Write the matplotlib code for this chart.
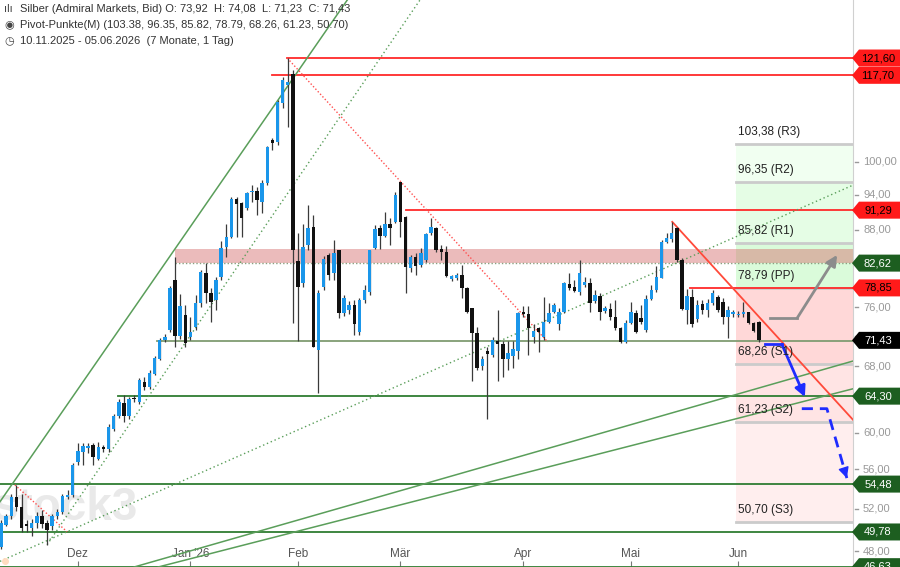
import numpy as np
import matplotlib
matplotlib.use("Agg")
import matplotlib.pyplot as plt
from matplotlib.patches import Polygon

plt.rcParams['font.family'] = ['Liberation Sans', 'DejaVu Sans']

# Tageskerzen Silber (Admiral Markets, Bid), 10.11.2025 - 05.06.2026
eroeffnung = [48.4, 50.4, 51.3, 53.2, 52.2, 50.5, 50.2, 50.6, 51.3, 50.6,
              50.3, 51.3, 51.7, 53.2, 53.4, 56.8, 57.9, 58.3, 58.6, 57.1,
              58.4, 58.2, 60.4, 61.9, 63.5, 61.9, 64.1, 63.6, 66.0, 65.4,
              67.1, 69.0, 71.5, 72.9, 80.1, 72.0, 74.9, 71.9, 73.3, 76.6,
              81.1, 78.1, 77.1, 80.5, 85.2, 86.8, 93.3, 92.5, 91.6, 94.4,
              94.6, 92.7, 96.1, 104.2, 103.8, 111.7, 115.6, 118.1, 82.9, 79.6,
              85.5, 88.4, 70.2, 79.0, 83.9, 81.1, 84.7, 75.2, 75.7, 76.4,
              72.5, 77.1, 78.3, 85.0, 88.3, 86.9, 88.9, 89.3, 96.2, 90.1,
              81.9, 83.5, 82.3, 83.1, 87.4, 88.3, 84.9, 84.4, 80.2, 80.3,
              80.8, 78.9, 75.9, 72.4, 68.1, 70.0, 69.5, 71.3, 70.9, 68.9,
              69.4, 70.0, 75.4, 75.0, 71.9, 73.1, 71.9, 74.0, 75.4, 73.6,
              75.4, 79.5, 79.0, 78.3, 79.3, 79.6, 76.9, 77.6, 75.5, 75.8,
              74.6, 73.1, 71.2, 73.8, 75.2, 74.5, 72.9, 77.2, 78.6, 80.3,
              86.0, 86.5, 88.3, 83.1, 75.7, 77.5, 74.3, 76.5, 75.7, 76.6,
              77.5, 76.8, 74.6, 75.0, 74.9, 75.0, 75.3, 73.8, 73.92]
hoch = [50.9, 51.5, 53.5, 54.4, 53.5, 50.9, 51.0, 51.7, 51.9, 50.9,
        51.5, 52.0, 53.5, 53.9, 56.7, 58.9, 58.9, 58.9, 58.9, 59.0,
        58.6, 61.0, 62.2, 63.9, 64.5, 64.2, 64.4, 66.5, 66.7, 67.5,
        69.4, 71.8, 72.3, 79.2, 83.6, 78.0, 76.4, 74.6, 77.8, 81.5,
        82.6, 78.8, 80.5, 86.1, 89.0, 93.5, 93.5, 92.7, 94.5, 95.8,
        95.4, 96.6, 103.0, 104.6, 112.4, 117.4, 121.6, 118.9, 87.5, 89.0,
        92.2, 90.5, 78.6, 83.7, 84.2, 86.3, 84.7, 77.8, 76.9, 77.1,
        77.4, 79.3, 84.7, 88.8, 88.8, 91.0, 90.0, 94.4, 96.3, 90.3,
        83.9, 84.2, 85.0, 87.4, 90.0, 88.5, 85.5, 85.3, 80.8, 81.1,
        82.3, 79.0, 75.9, 73.2, 69.3, 70.6, 71.9, 75.7, 71.4, 71.4,
        71.4, 75.4, 76.2, 76.2, 73.6, 73.3, 77.5, 76.6, 76.6, 75.9,
        79.8, 81.1, 80.0, 83.1, 80.5, 80.3, 78.6, 78.1, 76.2, 76.6,
        77.1, 73.3, 74.2, 76.8, 75.7, 76.4, 77.8, 79.3, 82.1, 86.3,
        87.5, 89.3, 88.5, 83.4, 78.7, 78.7, 77.1, 77.1, 77.2, 78.6,
        77.8, 77.3, 76.2, 75.7, 75.5, 76.8, 75.4, 74.0, 74.08]
tief = [48.2, 50.3, 51.0, 51.8, 49.8, 49.8, 49.4, 50.2, 50.2, 48.6,
        50.0, 51.0, 51.5, 53.0, 53.2, 56.5, 56.5, 57.8, 56.5, 57.0,
        57.9, 57.9, 60.2, 61.7, 61.2, 61.6, 63.6, 63.4, 65.1, 65.2,
        66.9, 68.8, 71.2, 72.6, 70.6, 71.6, 70.5, 71.5, 72.9, 76.1,
        76.6, 74.0, 75.7, 80.0, 83.6, 86.7, 86.8, 86.8, 91.3, 92.7,
        90.5, 90.8, 95.8, 102.2, 103.3, 110.7, 106.7, 73.8, 71.4, 79.0,
        84.7, 70.5, 64.7, 78.6, 80.0, 80.0, 74.5, 74.8, 75.0, 72.2,
        72.2, 76.6, 77.8, 84.9, 84.9, 86.8, 85.5, 89.1, 86.8, 78.1,
        81.2, 80.8, 82.0, 82.8, 87.1, 84.4, 83.1, 80.5, 79.9, 80.0,
        77.4, 75.2, 66.1, 67.6, 67.6, 61.6, 69.2, 66.1, 66.7, 67.6,
        67.8, 68.9, 74.6, 69.5, 71.1, 69.9, 71.5, 73.8, 75.2, 72.9,
        75.2, 78.6, 78.3, 77.8, 79.0, 75.4, 76.6, 74.2, 75.2, 74.2,
        72.9, 71.1, 71.1, 73.6, 72.4, 73.6, 72.6, 77.1, 78.3, 80.3,
        85.8, 86.0, 82.8, 75.7, 73.6, 73.3, 74.0, 75.1, 74.7, 76.4,
        75.4, 73.6, 71.8, 74.7, 74.6, 74.7, 73.6, 72.6, 71.23]
schluss = [50.6, 51.3, 53.2, 52.2, 50.2, 50.3, 50.6, 51.3, 50.5, 50.0,
           51.3, 51.7, 53.3, 53.4, 56.5, 58.0, 58.5, 58.5, 57.3, 58.4,
           58.2, 60.7, 61.9, 63.6, 61.9, 64.0, 63.9, 66.3, 65.4, 67.2,
           69.1, 71.5, 71.9, 78.9, 72.0, 76.2, 71.1, 72.5, 76.6, 81.2,
           78.1, 76.8, 80.0, 85.0, 86.8, 93.2, 92.3, 90.0, 94.3, 94.6,
           93.1, 96.1, 102.8, 103.6, 111.9, 116.7, 116.3, 84.7, 79.0, 85.2,
           88.3, 70.5, 78.1, 83.3, 80.8, 84.2, 75.2, 77.4, 76.4, 73.6,
           77.1, 78.6, 84.7, 88.1, 86.9, 89.0, 88.3, 94.0, 89.3, 82.0,
           83.5, 82.2, 84.2, 87.3, 88.5, 84.7, 84.4, 80.6, 80.6, 80.8,
           78.9, 75.4, 72.4, 67.8, 68.9, 69.6, 71.5, 70.9, 68.9, 69.7,
           70.3, 75.2, 75.0, 73.1, 72.7, 72.6, 74.0, 75.2, 76.4, 75.4,
           79.6, 78.9, 78.4, 81.1, 79.8, 76.6, 77.8, 75.4, 75.9, 74.6,
           73.1, 71.2, 73.8, 75.4, 72.6, 74.0, 77.2, 78.6, 80.5, 86.0,
           86.6, 87.5, 83.1, 75.8, 77.6, 73.6, 76.4, 75.7, 76.6, 78.1,
           75.7, 74.6, 75.7, 75.3, 75.1, 75.3, 73.8, 72.7, 71.43]

monate = ['Dez', "Jan '26", 'Feb', 'Mär', 'Apr', 'Mai', 'Jun']
monat_idx = [15, 37, 58, 78, 102, 123, 144]

pivot_namen = ['R3', 'R2', 'R1', 'PP', 'S1', 'S2', 'S3']
pivot_werte = [103.38, 96.35, 85.82, 78.79, 68.26, 61.23, 50.70]
pivot_start = 143.6

# horizontale Linien: Preis, Start (Kerzenindex), Farbe
linien_preis = [121.60, 117.70, 91.29, 78.85, 71.35, 64.30, 54.48, 49.78, 46.63]
linien_start = [55.9, 52.9, 79.1, 134.6, 30.5, 22.9, -1, -1, -1]
linien_farbe = ['#ff2a2a', '#ff2a2a', '#ff2a2a', '#ff2a2a', '#809c72',
                '#2f7d32', '#2f7d32', '#2f7d32', '#2f7d32']

# Trendlinien: (i0, p0, i1, p1)
trend_gruen = [(-0.2, 52.7, 67.6, 135.6), (26.0, 46.6, 166.4, 68.7), (30.7, 46.6, 166.4, 65.2)]
trend_gruen_punkt = [(9.0, 48.6, 81.8, 135.6), (-0.2, 47.1, 166.4, 95.7)]
trend_rot_punkt = [(55.9, 121.6, 106.8, 71.2), (2.7, 54.4, 12.9, 49.8)]
trend_rot = [(131.1, 89.3, 166.4, 61.5)]

zone_unten, zone_oben, zone_start = 82.62, 84.8, 34.0

# Szenario-Pfeile
pfeil_grau_x, pfeil_grau_y = [150.2, 155.5, 163.3], [74.5, 74.5, 83.9]
pfeil_blau_x, pfeil_blau_y = [149.2, 152.5, 157.0], [70.9, 70.9, 64.2]
pfeil_blau2_x, pfeil_blau2_y = [156.4, 161.3, 165.2], [62.8, 62.8, 55.1]

marken_werte = [121.60, 117.70, 91.29, 82.62, 78.85, 71.43, 64.30, 54.48, 49.78, 46.63]
marken_art = ['r', 'r', 'r', 'g', 'r', 's', 'g', 'g', 'g', 'g']
achsen_ticks = [48, 52, 56, 60, 68, 72, 76, 88, 94, 100]

ymin, ymax = 46.6, 135.65
xmin, xmax = -0.2, 166.4


def komma(v):
    return f"{v:.2f}".replace('.', ',')


fig = plt.figure(figsize=(9, 5.67), dpi=100)
ax = fig.add_axes([0, 0, 853 / 900, 1])
ax.set_yscale('log')
ax.set_xlim(xmin, xmax)
ax.set_ylim(ymin, ymax)
for s in ['top', 'left', 'bottom']:
    ax.spines[s].set_visible(False)
ax.spines['right'].set_color('#d0d0d0')
ax.set_yticks([])
ax.set_yticks([], minor=True)
ax.tick_params(axis='x', direction='in', length=4, color='#777', pad=-14,
               labelsize=8.5, labelcolor='#555')
ax.set_xticks(monat_idx)
ax.set_xticklabels(monate)

# Pivot-Flächen
flaechen = ['#f1fff1', '#e5fde5', '#dafbda', '#ffd8d8', '#ffe4e4', '#ffeeee']
for k in range(6):
    ax.fill_between([pivot_start, xmax], pivot_werte[k + 1], pivot_werte[k],
                    color=flaechen[k], lw=0, zorder=0)
for n, v in zip(pivot_namen, pivot_werte):
    ax.plot([pivot_start, xmax], [v, v], color='#cbcbcb', lw=2, zorder=1)
    ax.annotate(f"{komma(v)} ({n})", (pivot_start, v), xytext=(2, 12),
                textcoords='offset pixels', fontsize=8.5, color='#222',
                va='center', ha='left', zorder=6)

# Widerstandszone
ax.fill_between([zone_start, xmax], zone_unten, zone_oben, color='#d46a6a',
                alpha=0.45, lw=0, zorder=1)
ax.plot([zone_start, xmax], [zone_unten, zone_unten], color='#8aa080', lw=1,
        ls=(0, (1, 1.5)), zorder=2)

# Wasserzeichen
ax.text(-1.6, 50.9, 'stock3', fontsize=33, color='#c8c8c8', alpha=0.4,
        fontweight='bold', va='baseline', ha='left', zorder=1)

# horizontale Linien
for p, st, c in zip(linien_preis, linien_start, linien_farbe):
    ax.plot([st, xmax], [p, p], color=c, lw=1.3, zorder=2)

for i0, p0, i1, p1 in trend_gruen:
    ax.plot([i0, i1], [p0, p1], color='#5a9e5a', lw=1.1, zorder=2)
for i0, p0, i1, p1 in trend_gruen_punkt:
    ax.plot([i0, i1], [p0, p1], color='#5a9e5a', lw=1, ls=(0, (1, 2)), zorder=2)
for i0, p0, i1, p1 in trend_rot_punkt:
    ax.plot([i0, i1], [p0, p1], color='#ff5050', lw=1, ls=(0, (1, 1.5)), zorder=2)
for i0, p0, i1, p1 in trend_rot:
    ax.plot([i0, i1], [p0, p1], color='#ff4a3a', lw=1.3, zorder=2)
ax.plot([0.8], [47.1], 'o', color='#ffdcc0', ms=4, zorder=2)

# Kerzen
idx = np.arange(len(schluss))
o = np.array(eroeffnung)
c = np.array(schluss)
steigend = c >= o
ax.vlines(idx, tief, hoch, color='#3a3a3a', lw=0.9, zorder=3)
koerper = np.where(np.abs(c - o) < 0.15, 0.15, c - o)
ax.bar(idx, koerper, bottom=o, width=0.68,
       color=np.where(steigend, '#1a96ea', '#111111'), lw=0, zorder=4)

# Pfeile
ax.plot(pfeil_grau_x[:2], pfeil_grau_y[:2], color='#8c8c8c', lw=2, zorder=5)
ax.annotate('', xy=(pfeil_grau_x[2], pfeil_grau_y[2]),
            xytext=(pfeil_grau_x[1], pfeil_grau_y[1]),
            arrowprops=dict(arrowstyle='-|>', color='#8c8c8c', lw=2,
                            mutation_scale=16, shrinkA=0, shrinkB=0), zorder=5)
ax.plot(pfeil_blau_x[:2], pfeil_blau_y[:2], color='#1f2cff', lw=2, zorder=5)
ax.annotate('', xy=(pfeil_blau_x[2], pfeil_blau_y[2]),
            xytext=(pfeil_blau_x[1], pfeil_blau_y[1]),
            arrowprops=dict(arrowstyle='-|>', color='#1f2cff', lw=2,
                            mutation_scale=16, shrinkA=0, shrinkB=0), zorder=5)
ax.plot(pfeil_blau2_x, pfeil_blau2_y, color='#1f2cff', lw=2, ls=(0, (4, 2.5)), zorder=5)
ax.annotate('', xy=(pfeil_blau2_x[2], pfeil_blau2_y[2]),
            xytext=(pfeil_blau2_x[2] - 0.4, pfeil_blau2_y[2] * 1.012),
            arrowprops=dict(arrowstyle='-|>', color='#1f2cff', lw=1,
                            mutation_scale=16, shrinkA=0, shrinkB=0), zorder=5)

# rechte Preisachse
ax2 = fig.add_axes([852 / 900, 0, 48 / 900, 1])
ax2.set_yscale('log')
ax2.set_ylim(ymin, ymax)
ax2.set_xlim(0, 48)
ax2.axis('off')
for t in achsen_ticks:
    ax2.plot([3, 6], [t, t], color='#999', lw=1, zorder=1)
    ax2.text(11, t, komma(t), fontsize=8, color='#999', va='center', ha='left', zorder=1)
f = np.exp(8.5 / 530.7)
farben = {'r': ('#ff1a1a', 'black'), 'g': ('#1d5e20', 'white'), 's': ('#000000', 'white')}
for v, art in zip(marken_werte, marken_art):
    bg, fg = farben[art]
    ax2.add_patch(Polygon([(0, v), (7, v * f), (48, v * f), (48, v / f), (7, v / f)],
                          closed=True, color=bg, lw=0, zorder=3, clip_on=False))
    ax2.text(26, v, komma(v), fontsize=8, color=fg, va='center', ha='center', zorder=4)

# Kopfzeilen
kopf = [('ılı', 'Silber (Admiral Markets, Bid) O: 73,92  H: 74,08  L: 71,23  C: 71,43'),
        ('◉', 'Pivot-Punkte(M) (103.38, 96.35, 85.82, 78.79, 68.26, 61.23, 50.70)'),
        ('◷', '10.11.2025 - 05.06.2026  (7 Monate, 1 Tag)')]
for k, (ic, txt) in enumerate(kopf):
    yy = 1 - (9 + 16 * k) / 567
    fig.text(4 / 900, yy, ic, fontsize=8, color='#444', va='center', ha='left')
    fig.text(20 / 900, yy, txt, fontsize=8, color='#333', va='center', ha='left')

fig.savefig('out.png', dpi=100)
